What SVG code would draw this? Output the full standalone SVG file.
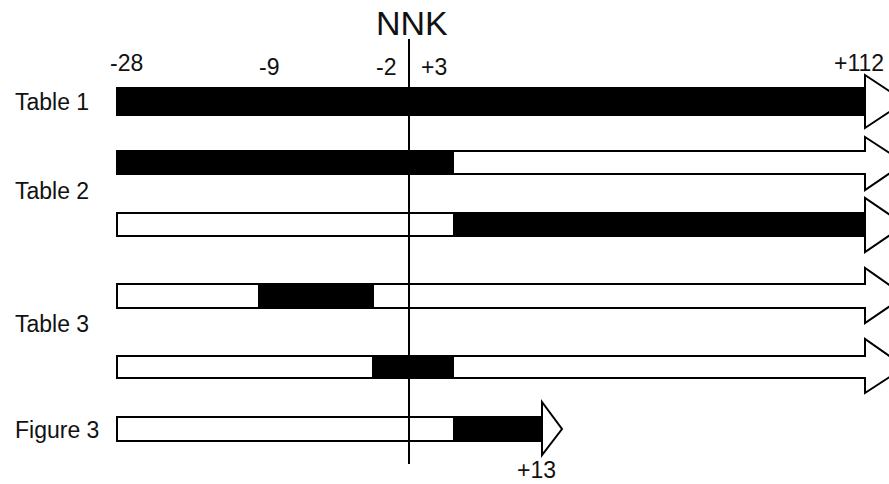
<svg xmlns="http://www.w3.org/2000/svg" width="889" height="484" viewBox="0 0 889 484">
<style>
.lbl{font-family:"Liberation Sans",Arial,sans-serif;font-size:23px;fill:#111}
.ttl{font-family:"Liberation Sans",Arial,sans-serif;font-size:34px;fill:#111}
.arr{fill:#fff;stroke:#000;stroke-width:2;stroke-linejoin:miter}
.blk{fill:#000}
</style>
<rect width="889" height="484" fill="#fff"/>
<text class="ttl" x="376" y="35">NNK</text>
<g id="scale">
<text class="lbl" x="110" y="71">-28</text>
<text class="lbl" x="259" y="75">-9</text>
<text class="lbl" x="376" y="75">-2</text>
<text class="lbl" x="421" y="75">+3</text>
<text class="lbl" x="834" y="71">+112</text>
</g>
<g id="labels">
<text class="lbl" x="15" y="110">Table 1</text>
<text class="lbl" x="15" y="199">Table 2</text>
<text class="lbl" x="15" y="332">Table 3</text>
<text class="lbl" x="15" y="438">Figure 3</text>
<text class="lbl" x="517" y="478">+13</text>
</g>
<g id="row1">
<path class="arr" d="M117,88 H865 V75 L905,101.5 L865,128 V115 H117 Z"/>
<rect class="blk" x="116" y="87" width="750" height="29"/>
</g>
<g id="row2">
<path class="arr" d="M117,151 H865 V137 L905,163 L865,190 V174 H117 Z"/>
<rect class="blk" x="116" y="150" width="338" height="25"/>
</g>
<g id="row3">
<path class="arr" d="M117,213 H865 V198 L905,225 L865,252 V236 H117 Z"/>
<rect class="blk" x="453" y="212" width="413" height="25"/>
</g>
<g id="row4">
<path class="arr" d="M117,284 H865 V268 L905,296 L865,323 V308 H117 Z"/>
<rect class="blk" x="258" y="283" width="116" height="26"/>
</g>
<g id="row5">
<path class="arr" d="M117,356 H865 V339 L905,367 L865,393 V378 H117 Z"/>
<rect class="blk" x="372" y="355" width="82" height="24"/>
</g>
<g id="row6">
<path class="arr" d="M117,417 H542 V402 L562,429 L542,455 V441 H117 Z"/>
<rect class="blk" x="453" y="416" width="90" height="26"/>
</g>
<g id="connectors">
<line x1="409" y1="39" x2="409" y2="464" stroke="#000" stroke-width="2"/>
</g>
</svg>
